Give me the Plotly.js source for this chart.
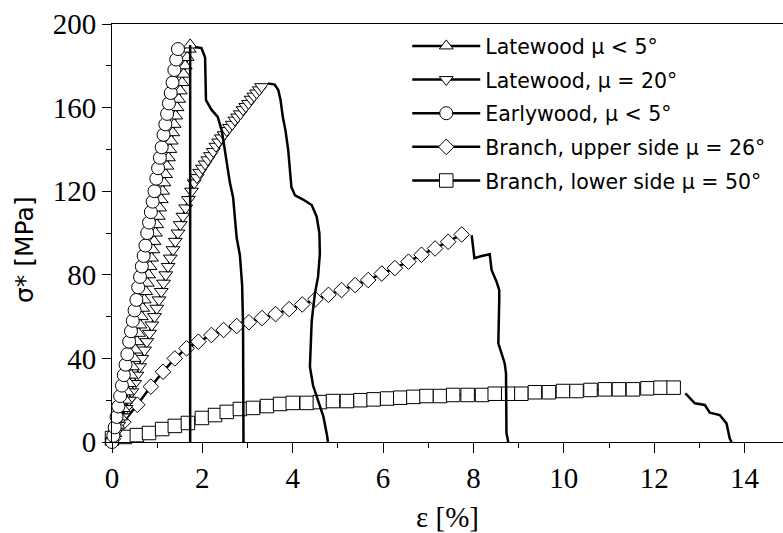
<!DOCTYPE html>
<html>
<head>
<meta charset="utf-8">
<script src="https://cdn.plot.ly/plotly-3.0.1.min.js"></script>
<style>
  html, body { margin: 0; padding: 0; background: #fff; overflow: hidden; }
  #chart { width: 783px; height: 533px; }
</style>
</head>
<body>
<div id="chart"></div>
<script>
// Stress-strain curves of wood specimens: strain ε [%] vs. stress σ* [MPa]

// Latewood, microfibril angle μ < 5°
const latewood5Strain = [0, 0.065, 0.13, 0.19, 0.25, 0.30, 0.34, 0.38, 0.42, 0.455, 0.49, 0.52, 0.555, 0.585, 0.62, 0.65, 0.68, 0.715, 0.745, 0.78, 0.81, 0.84, 0.875, 0.905, 0.93, 0.96, 0.99, 1.025, 1.055, 1.09, 1.12, 1.15, 1.185, 1.215, 1.25, 1.28, 1.31, 1.345, 1.375, 1.41, 1.44, 1.475, 1.51, 1.55, 1.585, 1.62, 1.665, 1.71, 1.73];
const latewood5Stress = [0, 4, 8, 12, 16, 20, 24, 28, 32, 36, 40, 44, 48, 52, 56, 60, 64, 68, 72, 76, 80, 84, 88, 92, 96, 100, 104, 108, 112, 116, 120, 124, 128, 132, 136, 140, 144, 148, 152, 156, 160, 164, 168, 172, 176, 180, 184, 188, 190];
const latewood5FailStrain = [1.73, 1.73];
const latewood5FailStress = [190, 0];

// Latewood, μ = 20°
const latewood20Strain = [0, 0.07, 0.15, 0.24, 0.31, 0.38, 0.44, 0.50, 0.55, 0.61, 0.66, 0.72, 0.77, 0.83, 0.88, 0.94, 0.99, 1.04, 1.09, 1.14, 1.19, 1.24, 1.29, 1.35, 1.40, 1.46, 1.51, 1.57, 1.63, 1.69, 1.76, 1.82, 1.88, 1.94, 2.00, 2.06, 2.12, 2.18, 2.24, 2.30, 2.36, 2.42, 2.48, 2.54, 2.60, 2.66, 2.72, 2.78, 2.84, 2.90, 2.96, 3.02, 3.08, 3.14, 3.20, 3.26, 3.31];
const latewood20Stress = [0, 4, 8, 12, 16, 20, 24, 28, 32, 36, 40, 44, 48, 52, 56, 60, 64, 68, 72, 76, 80, 84, 88, 92, 96, 100, 104, 108, 112, 116, 120, 124, 126.5, 129, 131, 133, 135, 137, 139, 141.5, 143.5, 145.5, 147, 149, 150.5, 152, 154, 155.5, 157, 159, 160.5, 162, 164, 165.5, 167, 168.5, 170];
const latewood20FailStrain = [3.45, 3.60, 3.68, 3.73, 3.78, 3.84, 3.90, 3.94, 3.97, 4.05, 4.23, 4.42, 4.53, 4.59, 4.60, 4.56, 4.49, 4.42, 4.40, 4.38, 4.38, 4.45, 4.55, 4.68, 4.76, 4.78];
const latewood20FailStress = [171.6, 171, 168.4, 163.6, 155.6, 149, 139.7, 128.6, 122, 118, 116, 113.4, 107.8, 100, 90, 79, 71, 58, 45, 40, 36, 27, 20, 12, 3, 0];

// Earlywood, μ < 5°
const earlywoodStrain = [0, 0.03, 0.06, 0.10, 0.14, 0.18, 0.22, 0.26, 0.30, 0.34, 0.38, 0.42, 0.46, 0.50, 0.54, 0.58, 0.62, 0.66, 0.70, 0.74, 0.78, 0.82, 0.86, 0.90, 0.94, 0.98, 1.02, 1.06, 1.10, 1.14, 1.18, 1.22, 1.26, 1.30, 1.34, 1.38, 1.42, 1.46];
const earlywoodStress = [0, 3, 7, 12, 17, 22, 27, 32, 37, 42, 48, 53, 58, 63, 68, 74, 79, 84, 89, 94, 100, 105, 110, 115, 120, 126, 131, 136, 141, 147, 152, 157, 162, 167, 172, 178, 183, 188];
const earlywoodFailStrain = [1.84, 1.98, 2.06, 2.08, 2.08, 2.20, 2.34, 2.43, 2.49, 2.57, 2.61, 2.68, 2.72, 2.76, 2.83, 2.88, 2.90, 2.91, 2.91];
const earlywoodFailStress = [189, 188.5, 184, 172, 163.6, 159, 155.6, 149, 140, 128.6, 124, 117, 108, 97.6, 89.5, 75, 56, 30, 0];

// Branch, upper side, μ = 26°
const branchUpperStrain = [0.02, 0.25, 0.56, 0.86, 1.13, 1.39, 1.65, 1.91, 2.20, 2.47, 2.76, 3.03, 3.32, 3.62, 3.92, 4.21, 4.50, 4.79, 5.08, 5.38, 5.67, 5.97, 6.26, 6.56, 6.85, 7.15, 7.44, 7.74];
const branchUpperStress = [1.5, 9.5, 17.8, 26.5, 33.6, 40, 44.8, 48, 51.2, 53.6, 55.5, 57.3, 59.3, 61.2, 63.6, 65.8, 68.3, 70.4, 72.7, 75.1, 77.5, 80.6, 83.2, 86.3, 89.6, 92.6, 95.8, 99.3];
const branchUpperFailStrain = [7.96, 8.02, 8.18, 8.36, 8.40, 8.51, 8.57, 8.57, 8.55, 8.62, 8.69, 8.72, 8.73, 8.77];
const branchUpperFailStress = [99, 88, 89, 89.8, 82.3, 76.7, 72.7, 68, 47.2, 42.4, 37.7, 32.9, 4.2, 0];

// Branch, lower side, μ = 50°
const branchLowerStrain = [0, 0.29, 0.55, 0.82, 1.11, 1.39, 1.68, 1.99, 2.28, 2.54, 2.83, 3.12, 3.43, 3.72, 4.00, 4.31, 4.60, 4.89, 5.20, 5.50, 5.79, 6.09, 6.38, 6.67, 6.96, 7.26, 7.55, 7.87, 8.19, 8.47, 8.77, 9.06, 9.36, 9.67, 9.98, 10.28, 10.59, 10.91, 11.22, 11.53, 11.85, 12.14, 12.43];
const branchLowerStress = [1.9, 2.4, 3.3, 4.3, 6.2, 7.7, 9.1, 11.5, 12.9, 14.4, 15.8, 16.3, 17.2, 18.2, 18.7, 18.7, 19.1, 19.6, 19.6, 20, 20.4, 20.8, 21.2, 21.6, 22, 22, 22.5, 22.5, 22.5, 23.1, 23.1, 23.1, 23.8, 23.8, 24.4, 24.4, 24.9, 25.2, 25.2, 25.2, 25.7, 26, 26];
const branchLowerFailStrain = [12.69, 12.90, 13.12, 13.23, 13.45, 13.60, 13.67, 13.71];
const branchLowerFailStress = [23.3, 18.5, 17.7, 14, 12.9, 8.9, 1.8, 0];

// Legend labels and tick labels
const seriesNames = [
  'Latewood \u03bc < 5\u00b0',
  'Latewood, \u03bc = 20\u00b0',
  'Earlywood, \u03bc < 5\u00b0',
  'Branch, upper side \u03bc = 26\u00b0',
  'Branch, lower side \u03bc = 50\u00b0'
];
const strainTicks = [0, 2, 4, 6, 8, 10, 12, 14];
const stressTicks = [0, 40, 80, 120, 160, 200];

const LINE_W = 2.5;
const markerStyle = (symbol, size) => ({
  symbol: symbol, size: size, color: '#ffffff',
  line: { color: '#000000', width: 1 }
});
const seriesTrace = (x, y, name, rank, symbol, size) => ({
  x: x, y: y, name: name, type: 'scatter', mode: 'lines+markers',
  line: { color: '#000000', width: LINE_W },
  marker: markerStyle(symbol, size),
  legendrank: rank, legendgroup: 'g' + rank, cliponaxis: false
});
const failTrace = (x, y) => ({
  x: x, y: y, type: 'scatter', mode: 'lines', showlegend: false,
  line: { color: '#000000', width: LINE_W }, hoverinfo: 'skip'
});

const data = [
  seriesTrace(branchLowerStrain, branchLowerStress, seriesNames[4], 5, 'square', 13.5),
  seriesTrace(branchUpperStrain, branchUpperStress, seriesNames[3], 4, 'diamond', 12),
  seriesTrace(latewood20Strain, latewood20Stress, seriesNames[1], 2, 'triangle-down', 12),
  seriesTrace(latewood5Strain, latewood5Stress, seriesNames[0], 1, 'triangle-up', 12),
  seriesTrace(earlywoodStrain, earlywoodStress, seriesNames[2], 3, 'circle', 13),
  failTrace(latewood5FailStrain, latewood5FailStress),
  failTrace(latewood20FailStrain, latewood20FailStress),
  failTrace(earlywoodFailStrain, earlywoodFailStress),
  failTrace(branchUpperFailStrain, branchUpperFailStress),
  failTrace(branchLowerFailStrain, branchLowerFailStress)
];

const tickFont = { family: '"Liberation Serif", "Times New Roman", serif', size: 29, color: '#000' };

const layout = {
  width: 783, height: 533,
  margin: { l: 112, r: 0, t: 24, b: 91 },
  paper_bgcolor: '#ffffff', plot_bgcolor: '#ffffff',
  showlegend: true,
  legend: {
    x: 0.44, y: 0.995, xanchor: 'left', yanchor: 'top',
    bgcolor: 'rgba(0,0,0,0)', borderwidth: 0,
    font: { family: '"DejaVu Sans", sans-serif', size: 20.5, color: '#000' },
    traceorder: 'grouped', tracegroupgap: 4, itemwidth: 68
  },
  xaxis: {
    range: [0, 14.85], showgrid: false, zeroline: false,
    showline: true, linecolor: '#000', linewidth: 1, mirror: true,
    ticks: 'outside', ticklen: 10, tickwidth: 1, tickcolor: '#000',
    tickvals: strainTicks, ticktext: strainTicks.map(String), tickfont: tickFont,
    minor: { dtick: 1, ticks: 'outside', ticklen: 5, tickwidth: 1, tickcolor: '#000', showgrid: false },
    title: { text: '\u03b5 [%]', font: tickFont, standoff: 20 }
  },
  yaxis: {
    range: [0, 200], showgrid: false, zeroline: false,
    showline: true, linecolor: '#000', linewidth: 1, mirror: false,
    ticks: 'outside', ticklen: 9, tickwidth: 1, tickcolor: '#000',
    tickvals: stressTicks, ticktext: stressTicks.map(String), tickfont: tickFont,
    minor: { dtick: 20, ticks: 'outside', ticklen: 5, tickwidth: 1, tickcolor: '#000', showgrid: false }
  },
  annotations: [{
    text: '\u03c3* [MPa]', xref: 'paper', yref: 'paper',
    x: (24 - 112) / 671, y: (442 - 250) / 418, xanchor: 'center', yanchor: 'middle',
    textangle: -90, showarrow: false,
    font: { family: '"DejaVu Sans", sans-serif', size: 25, color: '#000' }
  }]
};

Plotly.newPlot('chart', data, layout, { displayModeBar: false, staticPlot: true });
</script>
</body>
</html>
